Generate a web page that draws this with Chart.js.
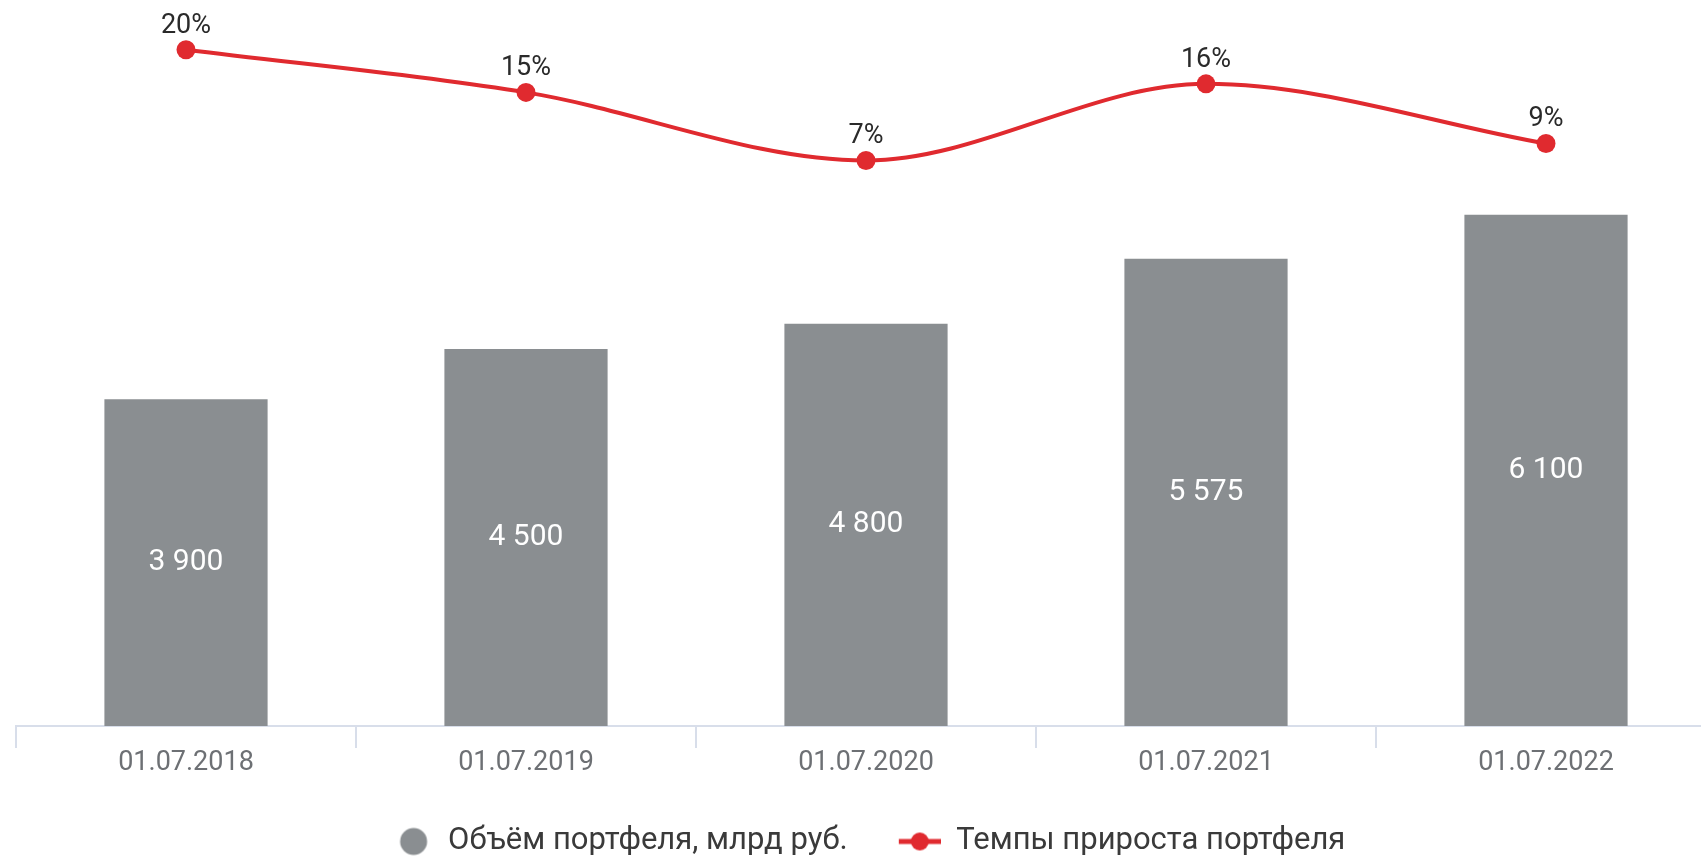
<!DOCTYPE html>
<html><head><meta charset="utf-8">
<script src="https://cdn.jsdelivr.net/npm/chart.js@4.4.0/dist/chart.umd.min.js"></script>
<style>
html,body{margin:0;padding:0;background:#fff;overflow:hidden;width:1701px;height:862px;}
#c{position:absolute;left:0;top:0;width:1716px;height:867px;}
</style></head><body>
<canvas id="c" width="1716" height="867"></canvas>
<script>
const categories = ['01.07.2018','01.07.2019','01.07.2020','01.07.2021','01.07.2022'];
const portfolioVolume = [3900, 4500, 4800, 5575, 6100];
const growthRate = [20, 15, 7, 16, 9];
const seriesNames = ['Объём портфеля, млрд руб.', 'Темпы прироста портфеля'];

const GREY = '#8a8e91';
const RED = '#e02a2f';
const FONT = 'Roboto';

function fmt(v){ return String(v).replace(/\B(?=(\d{3})+(?!\d))/g, ' '); }

function makeMarker(kind){
  const c = document.createElement('canvas');
  c.width = 46; c.height = 32;
  const g = c.getContext('2d');
  if (kind === 'circle') {
    g.fillStyle = GREY; g.beginPath(); g.arc(27, 16, 13.5, 0, Math.PI*2); g.fill();
  } else {
    g.strokeStyle = RED; g.lineWidth = 5; g.beginPath(); g.moveTo(4, 16); g.lineTo(46, 16); g.stroke();
    g.fillStyle = RED; g.beginPath(); g.arc(25, 16, 9, 0, Math.PI*2); g.fill();
  }
  return c;
}
const markers = [makeMarker('circle'), makeMarker('line')];

const labelPlugin = {
  id: 'valueLabels',
  afterDatasetsDraw(chart){
    const ctx = chart.ctx;
    ctx.save();
    ctx.textAlign = 'center'; ctx.textBaseline = 'middle';
    ctx.font = '30px ' + FONT; ctx.fillStyle = '#ffffff';
    chart.getDatasetMeta(0).data.forEach((el, i) => {
      ctx.fillText(fmt(portfolioVolume[i]), el.x, (el.y + el.base) / 2);
    });
    ctx.font = '27px ' + FONT; ctx.fillStyle = '#2a2a2a';
    chart.getDatasetMeta(1).data.forEach((el, i) => {
      ctx.fillText(growthRate[i] + '%', el.x, el.y - 24);
    });
    ctx.restore();
  }
};

new Chart(document.getElementById('c'), {
  data: {
    labels: categories,
    datasets: [
      {
        type: 'bar', label: seriesNames[0], data: portfolioVolume,
        backgroundColor: GREY, yAxisID: 'y',
        barPercentage: 0.48, categoryPercentage: 1.0
      },
      {
        type: 'line', label: seriesNames[1], data: growthRate,
        borderColor: RED, backgroundColor: RED, borderWidth: 4,
        pointRadius: 9.5, pointHoverRadius: 9.5, pointBorderWidth: 0, pointBackgroundColor: RED,
        cubicInterpolationMode: 'monotone', yAxisID: 'y2', clip: false
      }
    ]
  },
  options: {
    responsive: false, animation: false, devicePixelRatio: 1,
    layout: { autoPadding: false, padding: { left: 16, right: 0, top: 10, bottom: 0 } },
    scales: {
      x: {
        offset: true,
        grid: { display: true, drawOnChartArea: false, drawTicks: true, tickLength: 22, color: '#d8deea', lineWidth: 2, offset: true },
        border: { display: true, color: '#d8deea', width: 2 },
        ticks: { color: '#6d7074', font: { family: FONT, size: 27, lineHeight: 0.63 }, padding: 7, maxRotation: 0 }
      },
      y: { display: false, min: 0, max: 8544 },
      y2: { display: false, min: -59.37, max: 24.67 }
    },
    plugins: {
      legend: {
        position: 'bottom',
        labels: {
          usePointStyle: true, pointStyleWidth: 46, padding: 47,
          color: '#3a3a3a', font: { family: FONT, size: 31 },
          generateLabels(chart){
            const items = Chart.defaults.plugins.legend.labels.generateLabels(chart);
            items.forEach((it, i) => { it.pointStyle = markers[i]; });
            return items;
          }
        }
      },
      tooltip: { enabled: false }
    }
  },
  plugins: [labelPlugin]
});
</script>
</body></html>
